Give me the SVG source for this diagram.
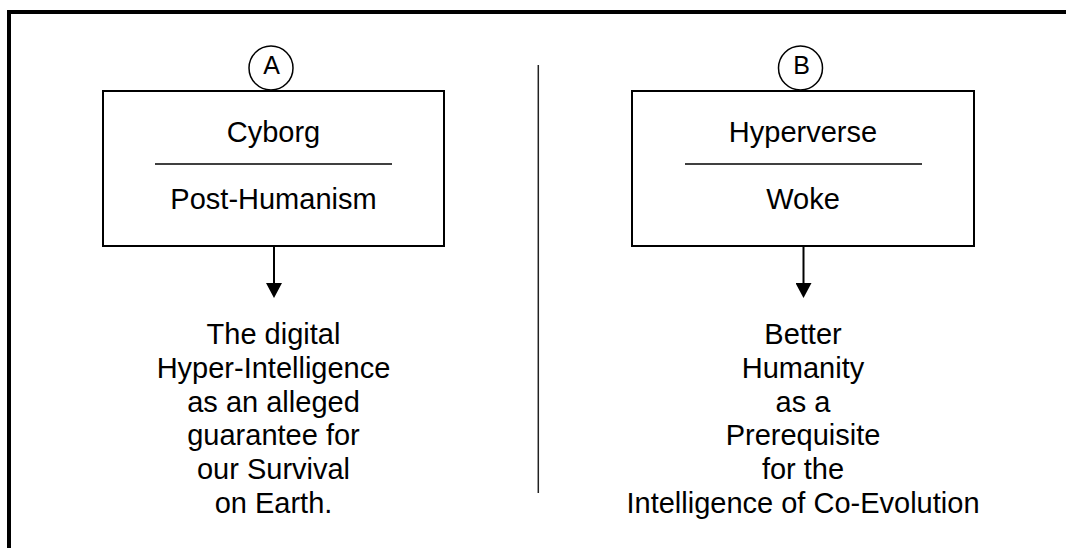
<svg xmlns="http://www.w3.org/2000/svg" width="1066" height="548" viewBox="0 0 1066 548">
<defs>
<style>
text{font-family:"Liberation Sans",Arial,sans-serif;font-size:29px;fill:#000;text-anchor:middle}
.badge text{font-size:25px}
.box{fill:#fff;stroke:#000;stroke-width:2}
.rule{stroke:#000;stroke-width:1.5}
.circ{fill:#fff;stroke:#000;stroke-width:1.5}
.conn{stroke:#000;stroke-width:2;fill:none}
</style>
<marker id="arr" markerWidth="15" markerHeight="16" refX="0" refY="8" orient="auto" markerUnits="userSpaceOnUse" viewBox="0 0 15 16">
<path d="M0,0 L15,8 L0,16 Z" fill="#000"/>
</marker>
</defs>
<rect width="1066" height="548" fill="#fff"/>
<rect id="frame" x="9" y="12" width="1100" height="600" fill="none" stroke="#000" stroke-width="4"/>
<line id="separator" x1="538.3" y1="65" x2="538.3" y2="493" stroke="#222" stroke-width="1.5"/>
<g id="nodeA">
<rect class="box" x="103" y="91" width="341" height="155"/>
<line class="rule" x1="155" y1="164" x2="392" y2="164"/>
<text x="273.5" y="141.7">Cyborg</text>
<text x="273.5" y="209">Post-Humanism</text>
</g>
<g id="badgeA" class="badge">
<circle class="circ" cx="271" cy="68" r="22"/>
<text x="271.5" y="74">A</text>
</g>
<g id="nodeB">
<rect class="box" x="632" y="91" width="342" height="155"/>
<line class="rule" x1="685" y1="164" x2="922" y2="164"/>
<text x="803" y="141.7">Hyperverse</text>
<text x="803" y="209">Woke</text>
</g>
<g id="badgeB" class="badge">
<circle class="circ" cx="800.5" cy="68" r="22"/>
<text x="801.5" y="74">B</text>
</g>
<g id="textA">
<text x="273.5" y="344.3">The digital</text>
<text x="273.5" y="378">Hyper-Intelligence</text>
<text x="273.5" y="411.7">as an alleged</text>
<text x="273.5" y="445.3">guarantee for</text>
<text x="273.5" y="479">our Survival</text>
<text x="273.5" y="512.6">on Earth.</text>
</g>
<g id="textB">
<text x="803" y="344.3">Better</text>
<text x="803" y="378">Humanity</text>
<text x="803" y="411.7">as a</text>
<text x="803" y="445.3">Prerequisite</text>
<text x="803" y="479">for the</text>
<text x="803" y="512.6">Intelligence of Co-Evolution</text>
</g>
<g id="connectors">
<line class="conn" x1="274" y1="246" x2="274" y2="283" marker-end="url(#arr)"/>
<line class="conn" x1="803.5" y1="246" x2="803.5" y2="283" marker-end="url(#arr)"/>
</g>
</svg>
